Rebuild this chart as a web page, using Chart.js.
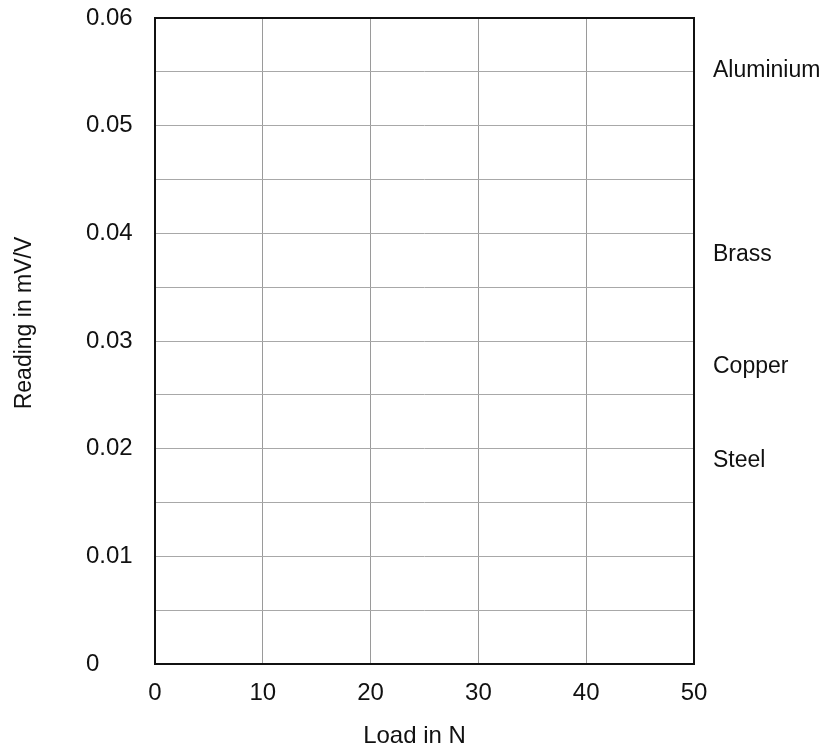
<!DOCTYPE html>
<html>
<head>
<meta charset="utf-8">
<script src="https://cdn.jsdelivr.net/npm/chart.js@4/dist/chart.umd.min.js"></script>
<style>
  html, body { margin: 0; padding: 0; background: #fff; }
  #wrap { width: 827px; height: 753px; }
</style>
</head>
<body>
<div id="wrap"><canvas id="c" width="827" height="753"></canvas></div>
<script>
// ---- Data ----
const loadTicks = [0, 10, 20, 30, 40, 50];          // Load in N
const readingTicks = [0, 0.01, 0.02, 0.03, 0.04, 0.05, 0.06]; // labelled readings (mV/V)
const materials = ['Aluminium', 'Brass', 'Copper', 'Steel'];
const materialLabelReadings = [0.0551, 0.038, 0.0276, 0.0189]; // where each name sits at the right edge
const xTitle = 'Load in N';
const yTitle = 'Reading in mV/V';

const FONT = '"Liberation Sans", Arial, Helvetica, sans-serif';

const datasets = materials.map(function (m) {
  return { label: m, data: [], showLine: false, pointRadius: 0 };
});

const decorPlugin = {
  id: 'decor',
  afterDraw(chart) {
    const ctx = chart.ctx;
    const a = chart.chartArea;
    const ys = chart.scales.y;
    ctx.save();
    // frame
    ctx.strokeStyle = '#111';
    ctx.lineWidth = 2;
    ctx.strokeRect(a.left, a.top, a.right - a.left, a.bottom - a.top);
    // material names at right
    ctx.fillStyle = '#111';
    ctx.font = '23px ' + FONT;
    ctx.textAlign = 'left';
    ctx.textBaseline = 'middle';
    materials.forEach(function (m, i) {
      ctx.fillText(m, a.right + 19, ys.getPixelForValue(materialLabelReadings[i]));
    });
    // axis titles
    ctx.font = '24px ' + FONT;
    ctx.textAlign = 'center';
    ctx.fillText(xTitle, (a.left + a.right) / 2 - 10, 736);
    ctx.font = '23px ' + FONT;
    ctx.translate(25, (a.top + a.bottom) / 2 - 18);
    ctx.rotate(-Math.PI / 2);
    ctx.fillText(yTitle, 0, 0);
    ctx.restore();
  }
};

new Chart(document.getElementById('c'), {
  type: 'scatter',
  data: { datasets: datasets },
  options: {
    responsive: false,
    animation: false,
    devicePixelRatio: 1,
    layout: { padding: { left: 86, right: 133, top: 18, bottom: 0 } },
    plugins: { legend: { display: false }, tooltip: { enabled: false } },
    scales: {
      x: {
        type: 'linear',
        min: loadTicks[0],
        max: loadTicks[loadTicks.length - 1],
        afterBuildTicks(scale) { scale.ticks = loadTicks.map(v => ({ value: v })); },
        afterFit(scale) { scale.height = 89; scale.paddingLeft = 0; scale.paddingRight = 0; },
        ticks: { color: '#111', font: { family: FONT, size: 24 }, padding: 15, maxRotation: 0,
                 callback: v => String(v) },
        grid: { color: '#9a9a9a', lineWidth: 1, drawTicks: false },
        border: { display: false }
      },
      y: {
        type: 'linear',
        min: readingTicks[0],
        max: readingTicks[readingTicks.length - 1],
        afterBuildTicks(scale) {
          const t = [];
          for (let i = 0; i < readingTicks.length; i++) {
            t.push({ value: readingTicks[i] });
            if (i < readingTicks.length - 1) t.push({ value: (readingTicks[i] + readingTicks[i + 1]) / 2, minor: true });
          }
          scale.ticks = t;
        },
        afterFit(scale) { scale.width = 69; scale.paddingTop = 0; scale.paddingBottom = 0; },
        ticks: {
          color: '#111', font: { family: FONT, size: 24 }, padding: 17, crossAlign: 'far',
          callback: function (v) {
            const isMajor = readingTicks.some(r => Math.abs(r - v) < 1e-9);
            if (!isMajor) return '';
            return v === 0 ? '0' : v.toFixed(2);
          }
        },
        grid: { color: '#a8a8a8', lineWidth: 1, drawTicks: false },
        border: { display: false }
      }
    }
  },
  plugins: [decorPlugin]
});
</script>
</body>
</html>
